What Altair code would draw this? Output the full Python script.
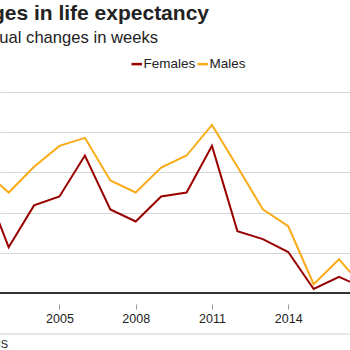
import altair as alt
import pandas as pd

years = list(range(2002, 2018))
females = [13.9, 5.7, 10.9, 12.0, 17.1, 10.4, 8.9, 12.0, 12.5, 18.3, 7.7, 6.7, 5.1, 0.5, 2.0, 0.6]
males = [15.3, 12.5, 15.7, 18.3, 19.3, 14.0, 12.5, 15.6, 17.1, 20.9, 15.7, 10.4, 8.3, 1.1, 4.2, 0.5]
series = ["Females", "Males"]
colors = ["#990000", "#FAAB18"]
x_ticks = [2005, 2008, 2011, 2014]
y_grid = [0, 5, 10, 15, 20, 25]
title_text = "Changes in life expectancy"
subtitle_text = "Annual changes in weeks"
source_text = "Source: ONS"

FONT = "Liberation Sans"
TOP = 92

df = pd.DataFrame({
    "year": years * 2,
    "value": females + males,
    "sex": ["Females"] * len(years) + ["Males"] * len(years),
})

lines = alt.Chart(df).mark_line(strokeWidth=2, clip=True).encode(
    x=alt.X("year:Q",
            scale=alt.Scale(domain=[2002.66, 2016.43], nice=False, zero=False),
            axis=alt.Axis(values=x_ticks, format="d", title=None, offset=11,
                          tickSize=5, domain=False, grid=False,
                          labelFontSize=12.5, labelColor="#222222",
                          labelFont=FONT, tickColor="#999999",
                          labelPadding=3)),
    y=alt.Y("value:Q",
            scale=alt.Scale(domain=[0, 25], nice=False),
            axis=alt.Axis(values=y_grid, grid=True, labels=False, ticks=False,
                          domain=False, title=None, gridColor="#d6d6d6")),
    color=alt.Color("sex:N",
                    scale=alt.Scale(domain=series, range=colors),
                    legend=alt.Legend(orient="none", legendX=130, legendY=-35,
                                      direction="horizontal", title=None,
                                      symbolType="stroke", symbolStrokeWidth=2.5,
                                      symbolSize=110, labelFontSize=13.5,
                                      labelFont=FONT, labelColor="#222222",
                                      columnPadding=-8, labelOffset=0)),
)

baseline = alt.Chart(pd.DataFrame({"v": [0]})).mark_rule(
    color="#333333", strokeWidth=2
).encode(y="v:Q")

title = alt.Chart(pd.DataFrame({"t": [title_text]})).mark_text(
    align="right", baseline="alphabetic", fontSize=21, fontWeight="bold",
    font=FONT, color="#222222"
).encode(text="t:N", x=alt.value(209), y=alt.value(20 - TOP))

subtitle = alt.Chart(pd.DataFrame({"t": [subtitle_text]})).mark_text(
    align="right", baseline="alphabetic", fontSize=16.6,
    font=FONT, color="#222222"
).encode(text="t:N", x=alt.value(158), y=alt.value(42.5 - TOP))

bottom_line = alt.Chart(pd.DataFrame({"v": [0]})).mark_rule(
    color="#cccccc", strokeWidth=1
).encode(x=alt.value(0), x2=alt.value(350), y=alt.value(334 - TOP))

source = alt.Chart(pd.DataFrame({"t": [source_text]})).mark_text(
    align="right", baseline="alphabetic", fontSize=11,
    font=FONT, color="#222222"
).encode(text="t:N", x=alt.value(8), y=alt.value(348 - TOP))

chart = alt.layer(lines, baseline, title, subtitle, bottom_line, source).properties(
    width=350, height=201,
    autosize=alt.AutoSizeParams(type="none"),
    padding={"left": 0, "top": TOP, "right": 0, "bottom": 350 - TOP - 201},
).configure_view(strokeWidth=0)

chart.save("out.html", embed_options={"renderer": "svg", "actions": False})
